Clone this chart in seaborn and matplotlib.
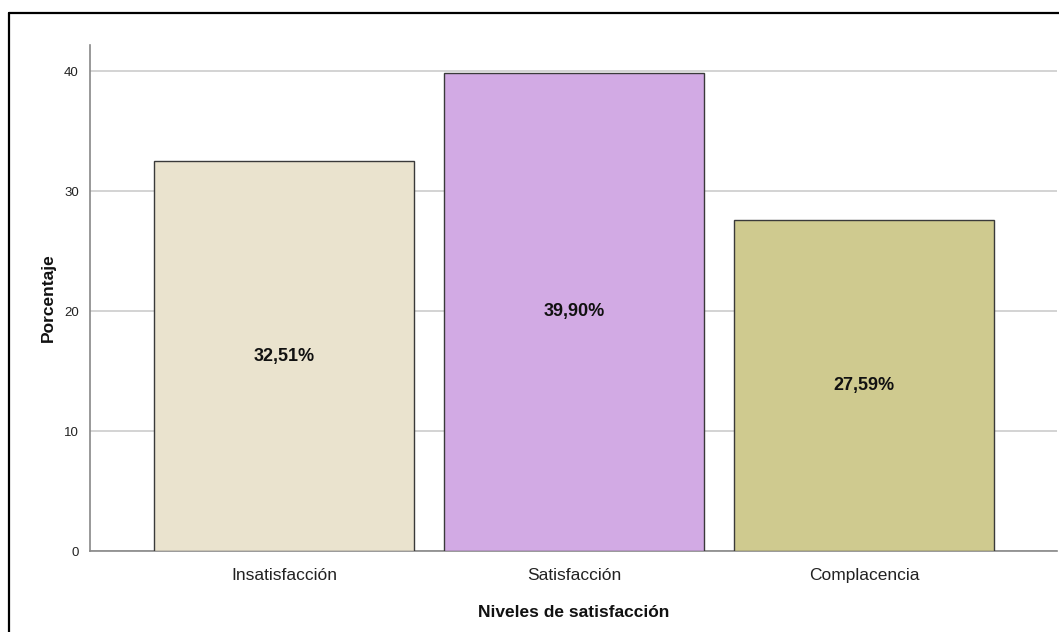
import matplotlib
matplotlib.use("Agg")
import matplotlib.pyplot as plt
import seaborn as sns
import pandas as pd
from matplotlib.lines import Line2D

categories = ["Insatisfacción", "Satisfacción", "Complacencia"]
values = [32.51, 39.90, 27.59]
labels = ["32,51%", "39,90%", "27,59%"]
colors = ["#EAE3CE", "#D2AAE4", "#CFCA8F"]
yticks = [0, 10, 20, 30, 40]

sns.set_style("white")
plt.rcParams["font.family"] = ["Liberation Sans", "DejaVu Sans"]

fig = plt.figure(figsize=(10.59, 6.32), dpi=100)
ax = fig.add_axes([90/1059, 1-551/632, (1057-90)/1059, (551-45)/632])

df = pd.DataFrame({"cat": categories, "val": values})
sns.barplot(data=df, x="cat", y="val", hue="cat", palette=colors, legend=False,
            saturation=1, width=0.897, edgecolor="#3a3a3a", linewidth=1.0, ax=ax, zorder=3)

for i, (v, lab) in enumerate(zip(values, labels)):
    ax.text(i, v/2, lab, ha="center", va="center", fontsize=13, fontweight="bold", color="#111111", zorder=4)

ax.set_xlim(-0.669, 2.666)
ax.set_ylim(0, 42.2)
ax.set_yticks(yticks)
ax.set_yticklabels([str(t) for t in yticks], fontsize=9.5)
ax.tick_params(axis="x", labelsize=12.5, length=0, pad=12, colors="#222222")
ax.tick_params(axis="y", length=0, pad=8, colors="#222222")
ax.yaxis.grid(True, color="#cccccc", linewidth=1.2, zorder=0)
ax.set_axisbelow(True)
for s in ["top", "right"]:
    ax.spines[s].set_visible(False)
for s in ["left", "bottom"]:
    ax.spines[s].set_color("#888888")
    ax.spines[s].set_linewidth(1.2)

ax.set_xlabel("Niveles de satisfacción", fontsize=12.5, fontweight="bold", labelpad=16, color="#111111")
ax.set_ylabel("Porcentaje", fontsize=12.5, fontweight="bold", labelpad=6, color="#111111")

# outer border (clipped at right and bottom)
W, H = 1059, 632
fig.add_artist(Line2D([9/W, 1.0], [1-13/H, 1-13/H], transform=fig.transFigure, color="black", linewidth=1.6))
fig.add_artist(Line2D([9/W, 9/W], [0.0, 1-13/H], transform=fig.transFigure, color="black", linewidth=1.6))

fig.savefig("out.png", dpi=100)
